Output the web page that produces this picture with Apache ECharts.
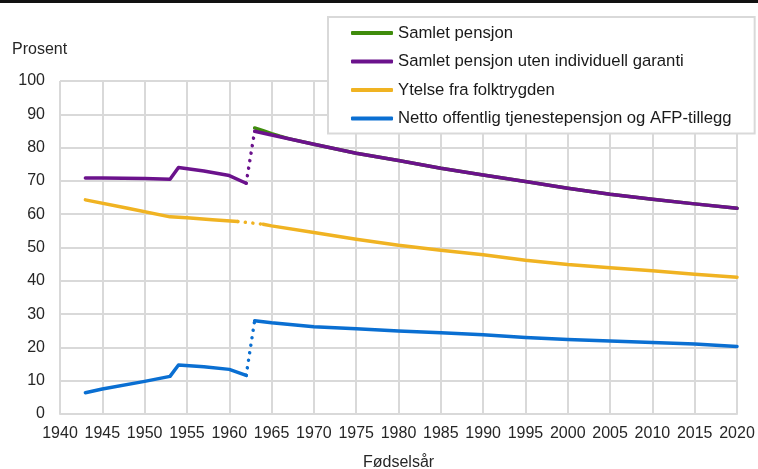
<!DOCTYPE html>
<html>
<head>
<meta charset="utf-8">
<script src="https://cdn.jsdelivr.net/npm/echarts@6/dist/echarts.min.js"></script>
<style>
  html, body { margin: 0; padding: 0; background: #fff; }
  #chart { width: 758px; height: 469px; }
</style>
</head>
<body>
<div id="chart"></div>
<script>
// fødselsår og prosent, lest av figuren
const xTicks = [1940, 1945, 1950, 1955, 1960, 1965, 1970, 1975, 1980, 1985, 1990, 1995, 2000, 2005, 2010, 2015, 2020];

const earlyYears = [1943, 1945, 1950, 1953, 1954, 1957, 1960, 1962];
const lateYears = [1963, 1965, 1970, 1975, 1980, 1985, 1990, 1995, 2000, 2005, 2010, 2015, 2020];

const greenYears = [1963, 1964, 1965, 1966, 1967, 1970, 1975, 1980, 1985, 1990, 1995, 2000, 2005, 2010, 2015, 2020];
const greenVals = [85.9, 85.1, 84.2, 83.4, 82.7, 81.0, 78.3, 76.1, 73.8, 71.8, 69.8, 67.8, 66.0, 64.5, 63.1, 61.8];

const purpleEarly = [70.9, 70.9, 70.7, 70.5, 74.0, 73.0, 71.6, 69.3];
const purpleLate = [84.9, 83.8, 81.0, 78.3, 76.1, 73.8, 71.8, 69.8, 67.8, 66.0, 64.5, 63.1, 61.8];

const yellowEarlyYears = [1943, 1948, 1953, 1955, 1958, 1961];
const yellowEarly = [64.3, 61.8, 59.2, 58.9, 58.3, 57.8];
const yellowLateYears = [1964, 1965, 1970, 1975, 1980, 1985, 1990, 1995, 2000, 2005, 2010, 2015, 2020];
const yellowLate = [57.0, 56.5, 54.5, 52.5, 50.7, 49.2, 47.8, 46.2, 44.9, 43.9, 43.0, 42.0, 41.1];

const blueEarly = [6.4, 7.5, 9.8, 11.3, 14.7, 14.2, 13.4, 11.6];
const blueLate = [28.0, 27.4, 26.2, 25.6, 24.9, 24.4, 23.8, 23.0, 22.4, 21.9, 21.5, 21.0, 20.3];

const names = [
    'Samlet pensjon',
    'Samlet pensjon uten individuell garanti',
    'Ytelse fra folktrygden',
    'Netto offentlig tjenestepensjon og AFP-tillegg'
];
const colors = ['#3f8c0c', '#6b128c', '#f0b322', '#0a6fd2'];

const pairs = (xs, ys) => xs.map((x, i) => [x, ys[i]]);
const last = arr => arr[arr.length - 1];

function solid(name, color, data) {
    return {
        name: name, type: 'line', data: data, symbol: 'none', silent: true,
        lineStyle: { color: color, width: 3.5, cap: 'round', join: 'round' },
        itemStyle: { color: color }
    };
}
function dotted(name, color, data) {
    return {
        name: name, type: 'line', data: data, symbol: 'none', silent: true,
        lineStyle: { color: color, width: 3.5, type: [0.1, 7.5], cap: 'round' },
        itemStyle: { color: color }
    };
}

const series = [
    solid(names[0], colors[0], pairs(greenYears, greenVals)),
    solid(names[1], colors[1], pairs(earlyYears, purpleEarly)),
    dotted(names[1], colors[1], [[last(earlyYears), last(purpleEarly)], [lateYears[0], purpleLate[0]]]),
    solid(names[1], colors[1], pairs(lateYears, purpleLate)),
    solid(names[2], colors[2], pairs(yellowEarlyYears, yellowEarly)),
    dotted(names[2], colors[2], [[last(yellowEarlyYears), last(yellowEarly)], [yellowLateYears[0], yellowLate[0]]]),
    solid(names[2], colors[2], pairs(yellowLateYears, yellowLate)),
    solid(names[3], colors[3], pairs(earlyYears, blueEarly)),
    dotted(names[3], colors[3], [[last(earlyYears), last(blueEarly)], [lateYears[0], blueLate[0]]]),
    solid(names[3], colors[3], pairs(lateYears, blueLate))
];

const font = '"Liberation Sans", Arial, sans-serif';
const chart = echarts.init(document.getElementById('chart'), null, { renderer: 'canvas' });

chart.setOption({
    animation: false,
    backgroundColor: '#fff',
    grid: { left: 60, right: 21, top: 81, bottom: 55, containLabel: false },
    xAxis: {
        type: 'value',
        min: xTicks[0], max: last(xTicks), interval: 5,
        axisLine: { show: true, lineStyle: { color: '#d9d9d9', width: 2 } },
        axisTick: { show: false },
        splitLine: { show: true, lineStyle: { color: '#d9d9d9', width: 2 } },
        axisLabel: { color: '#262626', fontSize: 16, fontFamily: font, margin: 12, formatter: v => String(v) }
    },
    yAxis: {
        type: 'value',
        min: 0, max: 100, interval: 10,
        axisLine: { show: false },
        axisTick: { show: false },
        splitLine: { show: true, lineStyle: { color: '#d9d9d9', width: 2 } },
        axisLabel: { color: '#262626', fontSize: 16, fontFamily: font, margin: 15 }
    },
    legend: {
        data: names,
        orient: 'vertical',
        left: 328, top: 17,
        padding: [7, 23, 6, 23],
        itemWidth: 42, itemHeight: 4, itemGap: 10.5,
        icon: 'roundRect',
        backgroundColor: '#fff',
        borderColor: '#d9d9d9', borderWidth: 2,
        selectedMode: false,
        textStyle: { color: '#1a1a1a', fontSize: 16.7, fontFamily: font, lineHeight: 18 }
    },
    graphic: [
        { type: 'rect', left: 0, top: 0, shape: { width: 758, height: 3 }, style: { fill: '#111' } },
        { type: 'text', left: 12, top: 42, style: { text: 'Prosent', fill: '#262626', font: '16px ' + font } },
        { type: 'text', left: 363, top: 455, style: { text: 'Fødselsår', fill: '#262626', font: '16px ' + font } }
    ],
    series: series
});
</script>
</body>
</html>
